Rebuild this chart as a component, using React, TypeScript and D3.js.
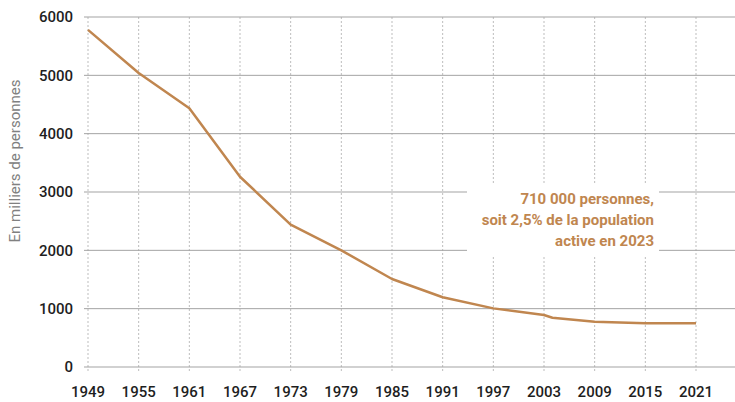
import * as d3 from "d3";

// Effectifs (en milliers de personnes)
const years = [1949, 1955, 1961, 1967, 1973, 1979, 1985, 1991, 1997, 2003, 2004, 2009, 2015, 2021];
const values = [5780, 5040, 4435, 3262, 2442, 2000, 1508, 1195, 1005, 891, 845, 777, 749, 749];

const xTicks = [1949, 1955, 1961, 1967, 1973, 1979, 1985, 1991, 1997, 2003, 2009, 2015, 2021];
const yTicks = [0, 1000, 2000, 3000, 4000, 5000, 6000];

const noteLines = ["710 000 personnes,", "soit 2,5% de la population", "active en 2023"];

const W = 735;
const H = 402;
const FONT = "Roboto, 'Noto Sans', sans-serif";
const LINE = "#c0864f";

export default function App() {
  const x = d3.scaleLinear().domain([1949, 2021]).range([88, 696]);
  const y = d3.scaleLinear().domain([0, 6000]).range([367, 17]);

  const pts = years.map((yr, i) => [yr, values[i]] as [number, number]);
  const line = d3
    .line<[number, number]>()
    .x((d) => x(d[0]))
    .y((d) => y(d[1]));

  return (
    <div style={{ position: "absolute", left: 0, top: 0 }}>
      <svg width={W} height={H} style={{ display: "block", fontFamily: FONT }}>
        <rect width={W} height={H} fill="#fff" />

        {/* vertical dashed grid */}
        {xTicks.map((t) => (
          <line
            key={"v" + t}
            x1={x(t)}
            x2={x(t)}
            y1={y(6000)}
            y2={y(0) + 5}
            stroke="#bdbdbd"
            strokeWidth={1}
            strokeDasharray="2,2"
          />
        ))}

        {/* horizontal grid */}
        {yTicks.map((t) => (
          <line key={"h" + t} x1={84} x2={W} y1={y(t)} y2={y(t)} stroke="#a3a3a3" strokeWidth={1} />
        ))}

        {/* y labels */}
        {yTicks.map((t) => (
          <text
            key={"yl" + t}
            x={73}
            y={y(t)}
            dy="0.36em"
            textAnchor="end"
            fontSize={15}
            fontWeight={500}
            fill="#1e1e1e"
          >
            {t}
          </text>
        ))}

        {/* x labels */}
        {xTicks.map((t) => (
          <text
            key={"xl" + t}
            x={x(t)}
            y={397}
            textAnchor="middle"
            fontSize={15}
            fontWeight={500}
            fill="#1e1e1e"
          >
            {t}
          </text>
        ))}

        {/* axis title */}
        <text
          transform={`translate(20,${161}) rotate(-90)`}
          textAnchor="middle"
          fontSize={15}
          fill="#808080"
        >
          En milliers de personnes
        </text>

        {/* series */}
        <path d={line(pts) || ""} fill="none" stroke={LINE} strokeWidth={2.5} strokeLinejoin="round" />

        {/* annotation */}
        <rect x={467} y={185} width={192} height={71} fill="#fff" />
        {noteLines.map((s, i) => (
          <text
            key={"n" + i}
            x={654}
            y={204 + i * 21}
            textAnchor="end"
            fontSize={15}
            fontWeight={700}
            fill={LINE}
          >
            {s}
          </text>
        ))}
      </svg>
    </div>
  );
}
